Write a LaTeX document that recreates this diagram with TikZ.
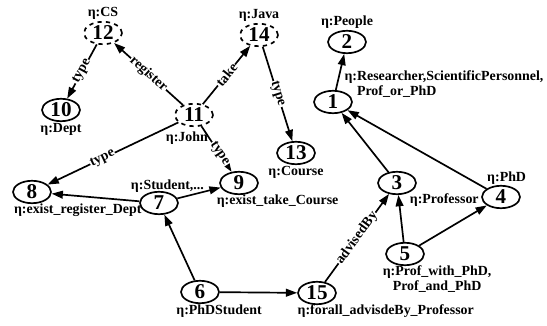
\documentclass[tikz,border=0pt]{standalone}
\usepackage{fontspec}
\setmainfont{Liberation Serif}
\usetikzlibrary{positioning,arrows.meta,shapes.geometric}

\begin{document}
\begin{tikzpicture}[
  x=0.025cm, y=-0.025cm,
  vertice/.style={draw, ellipse, line width=1.2pt, minimum width=0.95cm,
                  minimum height=0.56cm, inner sep=0pt,
                  font=\fontsize{15}{15}\selectfont\bfseries},
  instancia/.style={vertice, dashed},
  seta/.style={-{Triangle[length=8pt,width=5.5pt]}, line width=1.2pt},
  papel/.style={sloped, fill=white, inner sep=0.5pt,
                font=\fontsize{9.9}{10}\selectfont\bfseries},
  rotulo/.style={inner sep=1pt, align=left,
                 font=\fontsize{9.9}{11}\selectfont\bfseries}
]
  \useasboundingbox (0,0) rectangle (547,326);

  % individuos
  \node[instancia] (n12) at (103,33) {12};
  \node[instancia] (n14) at (259,35) {14};
  \node[instancia] (n11) at (194,115) {11};
  \node[vertice] (n10) at (61,110) {10};
  \node[vertice] (n13) at (296,153) {13};

  % conceitos
  \node[vertice] (n2) at (347,42) {2};
  \node[vertice] (n1) at (333,102) {1};
  \node[vertice] (n8) at (32,192) {8};
  \node[vertice] (n7) at (159,203) {7};
  \node[vertice] (n9) at (239,183) {9};
  \node[vertice] (n6) at (200,292) {6};
  \node[vertice] (n15) at (317,293) {15};
  \node[vertice] (n3) at (397,183) {3};
  \node[vertice] (n4) at (501,197) {4};
  \node[vertice] (n5) at (405,254) {5};

  % rotulos
  \node[rotulo, above=0pt of n12] (l12) {η:CS};
  \node[rotulo, above=0pt of n14] (l14) {η:Java};
  \node[rotulo, below=0pt of n10] (l10) {η:Dept};
  \node[rotulo, below left=5pt and -21pt of n11] (l11) {η:John};
  \node[rotulo, below=0pt of n13] (l13) {η:Course};
  \node[rotulo, above=0pt of n2] (l2) {η:People};
  \node[rotulo, anchor=south west] (l1) at ([xshift=-3pt,yshift=-5pt]n1.north east)
       {η:Researcher,ScientificPersonnel,\\\phantom{η:}Prof\_or\_PhD};
  \node[rotulo, anchor=north west] (l8) at ([xshift=-4pt,yshift=-1pt]n8.south west) {η:exist\_register\_Dept};
  \node[rotulo, anchor=south] (l7) at ([xshift=6pt,yshift=-2pt]n7.north) {η:Student,...};
  \node[rotulo, anchor=north west] (l9) at ([xshift=-7pt,yshift=-1pt]n9.south west) {η:exist\_take\_Course};
  \node[rotulo, anchor=north west] (l6) at ([xshift=-8pt,yshift=-2pt]n6.south west) {η:PhDStudent};
  \node[rotulo, anchor=north west] (l15) at ([xshift=-5pt,yshift=-1pt]n15.south west) {η:forall\_advisdeBy\_Professor};
  \node[rotulo, anchor=north west] (l3) at ([xshift=-2pt,yshift=0pt]n3.south east) {η:Professor};
  \node[rotulo, above=-1pt of n4, xshift=4pt] (l4) {η:PhD};
  \node[rotulo, anchor=north west, align=center] (l5) at ([xshift=-7pt,yshift=-1pt]n5.south west)
       {η:Prof\_with\_PhD,\\Prof\_and\_PhD};

  % arestas
  \draw[seta] (n12) -- node[papel] {type} (n10);
  \draw[seta] (n11) -- node[papel] {register} (n12);
  \draw[seta] (n11) -- node[papel] {take} (n14);
  \draw[seta] (n14) -- node[papel] {type} (n13);
  \draw[seta] (n11) -- node[papel, pos=0.6] {type} (n9);
  \draw[seta] (n11) -- node[papel, pos=0.58] {type} (n8);
  \draw[seta] (n7) -- (n8);
  \draw[seta] (n7) -- (n9);
  \draw[seta] (n6) -- (n7);
  \draw[seta] (n6) -- (n15);
  \draw[seta] (n15) -- node[papel] {advisedBy} (n3);
  \draw[seta] (n3) -- (n1);
  \draw[seta] (n4) -- (n1);
  \draw[seta] (n5) -- (n3);
  \draw[seta] (n5) -- (n4);
  \draw[seta] (n1) -- (n2);
\end{tikzpicture}
\end{document}
